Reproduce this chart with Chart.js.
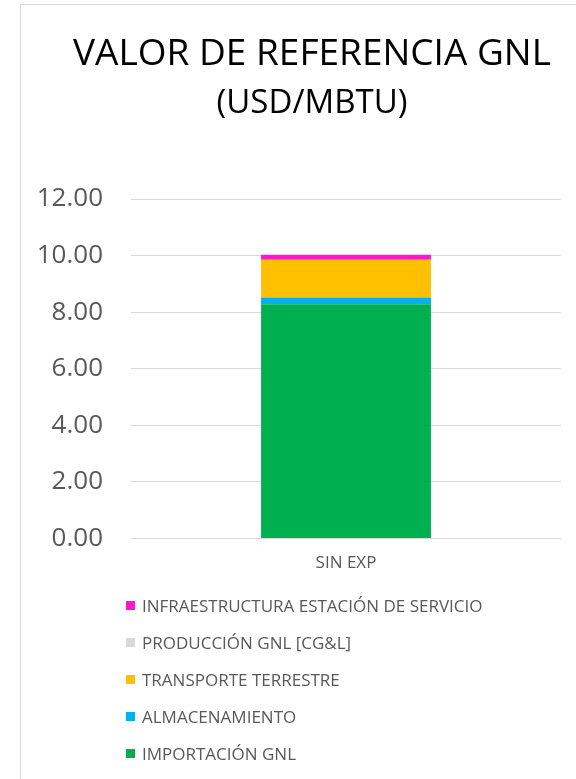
<!DOCTYPE html>
<html lang="es">
<head>
<meta charset="utf-8">
<title>Valor de referencia GNL</title>
<script src="https://cdn.jsdelivr.net/npm/chart.js@4.4.1/dist/chart.umd.min.js"></script>
<style>
  html, body { margin: 0; padding: 0; background: #ffffff; }
  body { width: 576px; height: 779px; position: relative; overflow: hidden; font-family: "Open Sans", sans-serif; }
  #frame { position: absolute; left: 20px; top: 4px; width: 620px; height: 820px; border: 1px solid #d9d9d9; box-sizing: border-box; }
  #wrap { position: absolute; left: 21px; top: 0; width: 582px; height: 582px; }
  #legend { position: absolute; left: 0; top: 0; width: 576px; height: 779px; pointer-events: none; }
  .item { position: absolute; left: 126px; height: 20px; display: flex; align-items: center; color: #595959; font-size: 17px; white-space: nowrap; }
  .sw { width: 9px; height: 9px; margin-right: 7px; flex: none; }
</style>
</head>
<body>
<div id="frame"></div>
<div id="wrap"><canvas id="chart"></canvas></div>
<div id="legend"></div>
<script>
// Categories and stacked cost components (USD/MBTU), bottom of the stack first
const categories = ["SIN EXP"];
const seriesNames = [
  "IMPORTACIÓN GNL",
  "ALMACENAMIENTO",
  "TRANSPORTE TERRESTRE",
  "PRODUCCIÓN GNL [CG&L]",
  "INFRAESTRUCTURA ESTACIÓN DE SERVICIO"
];
const importacion = [8.28];
const almacenamiento = [0.24];
const transporte = [1.33];
const produccion = [0.00];
const infraestructura = [0.18];
const seriesColors = ["#00b050", "#00b0f0", "#ffc000", "#d9d9d9", "#ff17c8"];
const yTicks = [0, 2, 4, 6, 8, 10, 12];

const seriesValues = [importacion, almacenamiento, transporte, produccion, infraestructura];

const datasets = seriesNames.map((name, i) => ({
  label: name,
  data: seriesValues[i],
  backgroundColor: seriesColors[i],
  borderWidth: 0,
  categoryPercentage: 1.0,
  barPercentage: 0.395
}));

function build() {
  const chart = new Chart(document.getElementById("chart"), {
    type: "bar",
    data: { labels: categories, datasets: datasets },
    options: {
      responsive: true,
      maintainAspectRatio: false,
      animation: false,
      layout: { padding: 0 },
      plugins: {
        legend: { display: false },
        tooltip: { enabled: false },
        title: {
          display: true,
          text: "VALOR DE REFERENCIA GNL",
          color: "#000000",
          font: { family: "Open Sans", size: 37, weight: "normal", lineHeight: 1.2 },
          padding: { top: 32, bottom: 0 }
        },
        subtitle: {
          display: true,
          text: "(USD/MBTU)",
          color: "#000000",
          font: { family: "Open Sans", size: 33, weight: "normal", lineHeight: 1.2 },
          padding: { top: 7, bottom: 76 }
        }
      },
      scales: {
        x: {
          stacked: true,
          grid: { display: false, drawTicks: false },
          border: { display: false },
          ticks: { color: "#595959", font: { family: "Open Sans", size: 17 }, padding: 15 },
          afterFit: (s) => { s.height = 40; }
        },
        y: {
          stacked: true,
          min: yTicks[0],
          max: yTicks[yTicks.length - 1],
          grid: { color: "#d9d9d9", lineWidth: 1, drawTicks: false },
          border: { display: false },
          afterBuildTicks: (s) => { s.ticks = yTicks.map(v => ({ value: v })); },
          ticks: {
            color: "#595959",
            font: { family: "Open Sans", size: 26 },
            padding: 28,
            callback: (v) => Number(v).toFixed(2)
          },
          afterFit: (s) => { s.width = 110; }
        },
        // blank right-hand margin so the titles stay centred on the page
        yRight: {
          position: "right",
          display: true,
          grid: { display: false, drawTicks: false },
          border: { display: false },
          ticks: { display: false },
          afterFit: (s) => { s.width = 42; }
        }
      }
    }
  });

  // Vertical legend, top of the stack listed first
  const legend = document.getElementById("legend");
  const order = chart.data.datasets.map((d, i) => i).reverse();
  order.forEach((di, row) => {
    const ds = chart.data.datasets[di];
    const item = document.createElement("div");
    item.className = "item";
    item.style.top = (595 + row * 37.1) + "px";
    const sw = document.createElement("span");
    sw.className = "sw";
    sw.style.background = ds.backgroundColor;
    const tx = document.createElement("span");
    tx.textContent = ds.label;
    item.appendChild(sw);
    item.appendChild(tx);
    legend.appendChild(item);
  });
}

Promise.all([
  document.fonts.load('37px "Open Sans"'),
  document.fonts.load('17px "Open Sans"')
]).then(build, build);
</script>
</body>
</html>
